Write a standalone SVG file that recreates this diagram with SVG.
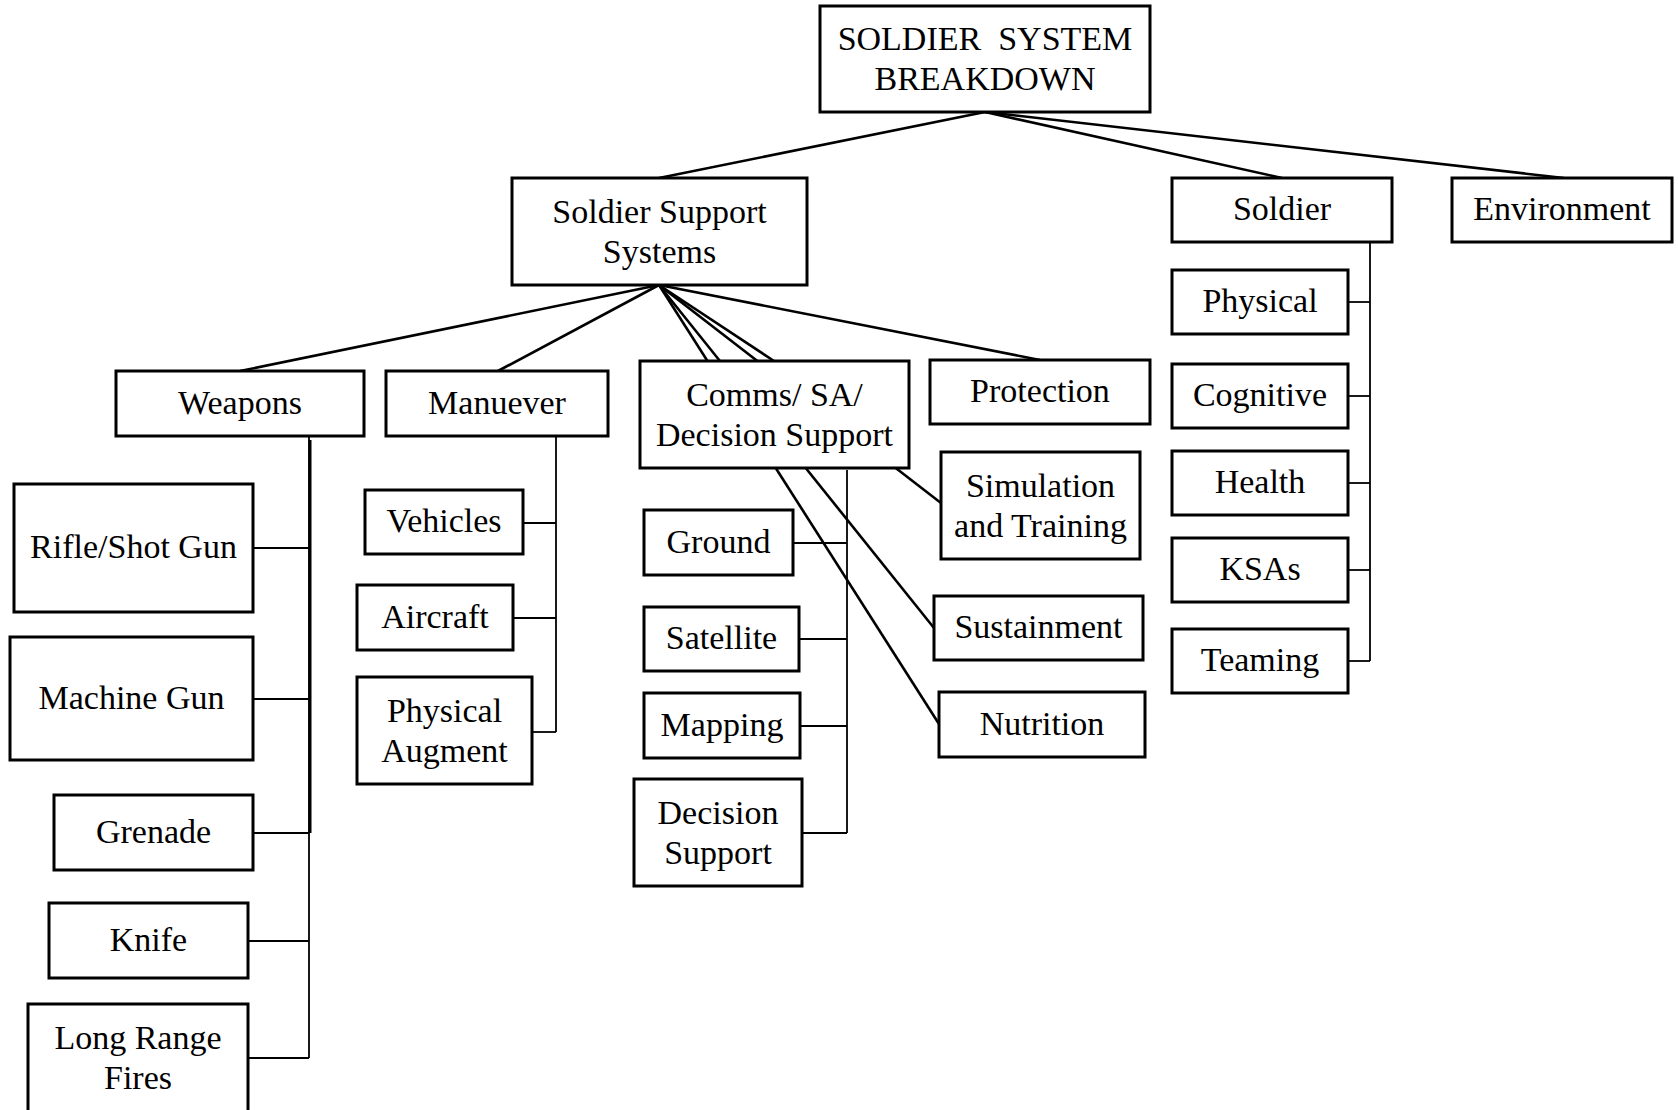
<svg xmlns="http://www.w3.org/2000/svg" width="1678" height="1110" viewBox="0 0 1678 1110">
  <style>
    .box { fill: #ffffff; stroke: #000000; stroke-width: 3; }
    .lbl { font-family: "Liberation Serif", "Times New Roman", serif; font-size: 34px; fill: #000000; text-anchor: middle; }
    .tree { stroke: #000000; stroke-width: 2.6; fill: none; }
    .bracket { stroke: #000000; stroke-width: 1.8; fill: none; }
  </style>
  <rect width="1678" height="1110" fill="#ffffff"/>

  <!-- connectors -->
  <g id="connectors">
    <!-- root to second level -->
    <line class="tree" x1="985" y1="112" x2="659" y2="178"/>
    <line class="tree" x1="985" y1="112" x2="1282" y2="178"/>
    <line class="tree" x1="985" y1="112" x2="1564" y2="178"/>
    <!-- Soldier Support Systems to its branches -->
    <line class="tree" x1="659" y1="285" x2="240" y2="371"/>
    <line class="tree" x1="659" y1="285" x2="498" y2="371"/>
    <line class="tree" x1="659" y1="285" x2="774" y2="361"/>
    <line class="tree" x1="659" y1="285" x2="1040" y2="360"/>
    <line class="tree" x1="659" y1="285" x2="941" y2="503"/>
    <line class="tree" x1="659" y1="285" x2="934" y2="628"/>
    <line class="tree" x1="659" y1="285" x2="939" y2="724"/>
    <!-- Weapons bracket -->
    <line class="bracket" x1="309" y1="436" x2="309" y2="1058"/>
    <line class="tree" x1="310" y1="440" x2="310" y2="833" style="stroke-width:3"/>
    <line class="bracket" x1="253" y1="548" x2="309" y2="548"/>
    <line class="bracket" x1="253" y1="699" x2="309" y2="699"/>
    <line class="bracket" x1="253" y1="833" x2="309" y2="833"/>
    <line class="bracket" x1="248" y1="941" x2="309" y2="941"/>
    <line class="bracket" x1="248" y1="1058" x2="309" y2="1058"/>
    <!-- Manuever bracket -->
    <line class="bracket" x1="556" y1="434" x2="556" y2="732"/>
    <line class="bracket" x1="523" y1="523" x2="556" y2="523"/>
    <line class="bracket" x1="513" y1="618" x2="556" y2="618"/>
    <line class="bracket" x1="532" y1="732" x2="556" y2="732"/>
    <!-- Comms bracket -->
    <line class="bracket" x1="847" y1="470" x2="847" y2="833"/>
    <line class="bracket" x1="793" y1="543" x2="847" y2="543"/>
    <line class="bracket" x1="799" y1="639" x2="847" y2="639"/>
    <line class="bracket" x1="800" y1="726" x2="847" y2="726"/>
    <line class="bracket" x1="802" y1="833" x2="847" y2="833"/>
    <!-- Soldier bracket -->
    <line class="bracket" x1="1370" y1="242" x2="1370" y2="661"/>
    <line class="bracket" x1="1348" y1="302" x2="1370" y2="302"/>
    <line class="bracket" x1="1348" y1="396" x2="1370" y2="396"/>
    <line class="bracket" x1="1348" y1="483" x2="1370" y2="483"/>
    <line class="bracket" x1="1348" y1="570" x2="1370" y2="570"/>
    <line class="bracket" x1="1348" y1="661" x2="1370" y2="661"/>
  </g>

  <!-- root -->
  <g id="root">
    <rect class="box" x="820" y="6" width="330" height="106"/>
    <text class="lbl" x="985" y="50" xml:space="preserve">SOLDIER  SYSTEM</text>
    <text class="lbl" x="985" y="90">BREAKDOWN</text>
  </g>

  <!-- second level -->
  <g id="soldier-support-systems">
    <rect class="box" x="512" y="178" width="295" height="107"/>
    <text class="lbl" x="659.5" y="222.5">Soldier Support</text>
    <text class="lbl" x="659.5" y="262.5">Systems</text>
  </g>
  <g id="soldier">
    <rect class="box" x="1172" y="178" width="220" height="64"/>
    <text class="lbl" x="1282" y="220">Soldier</text>
  </g>
  <g id="environment">
    <rect class="box" x="1452" y="178" width="220" height="64"/>
    <text class="lbl" x="1562" y="220">Environment</text>
  </g>

  <!-- Soldier Support Systems branches -->
  <g id="weapons">
    <rect class="box" x="116" y="371" width="248" height="65"/>
    <text class="lbl" x="240" y="413.5">Weapons</text>
  </g>
  <g id="manuever">
    <rect class="box" x="386" y="371" width="222" height="65"/>
    <text class="lbl" x="497" y="413.5">Manuever</text>
  </g>
  <g id="comms">
    <rect class="box" x="640" y="361" width="269" height="107"/>
    <text class="lbl" x="774.5" y="405.5">Comms/ SA/</text>
    <text class="lbl" x="774.5" y="445.5">Decision Support</text>
  </g>
  <g id="protection">
    <rect class="box" x="930" y="360" width="220" height="64"/>
    <text class="lbl" x="1040" y="402">Protection</text>
  </g>
  <g id="simulation-training">
    <rect class="box" x="941" y="452" width="199" height="107"/>
    <text class="lbl" x="1040.5" y="496.5">Simulation</text>
    <text class="lbl" x="1040.5" y="536.5">and Training</text>
  </g>
  <g id="sustainment">
    <rect class="box" x="934" y="596" width="209" height="64"/>
    <text class="lbl" x="1038.5" y="638">Sustainment</text>
  </g>
  <g id="nutrition">
    <rect class="box" x="939" y="692" width="206" height="65"/>
    <text class="lbl" x="1042" y="734.5">Nutrition</text>
  </g>

  <!-- Weapons items -->
  <g id="rifle">
    <rect class="box" x="14" y="484" width="239" height="128"/>
    <text class="lbl" x="133.5" y="558">Rifle/Shot Gun</text>
  </g>
  <g id="machine-gun">
    <rect class="box" x="10" y="637" width="243" height="123"/>
    <text class="lbl" x="131.5" y="708.5">Machine Gun</text>
  </g>
  <g id="grenade">
    <rect class="box" x="54" y="795" width="199" height="75"/>
    <text class="lbl" x="153.5" y="842.5">Grenade</text>
  </g>
  <g id="knife">
    <rect class="box" x="49" y="903" width="199" height="75"/>
    <text class="lbl" x="148.5" y="950.5">Knife</text>
  </g>
  <g id="long-range-fires">
    <rect class="box" x="28" y="1004" width="220" height="120"/>
    <text class="lbl" x="138" y="1048.5">Long Range</text>
    <text class="lbl" x="138" y="1088.5">Fires</text>
  </g>

  <!-- Manuever items -->
  <g id="vehicles">
    <rect class="box" x="365" y="490" width="158" height="64"/>
    <text class="lbl" x="444" y="532">Vehicles</text>
  </g>
  <g id="aircraft">
    <rect class="box" x="357" y="585" width="156" height="65"/>
    <text class="lbl" x="435" y="627.5">Aircraft</text>
  </g>
  <g id="physical-augment">
    <rect class="box" x="357" y="677" width="175" height="107"/>
    <text class="lbl" x="444.5" y="721.5">Physical</text>
    <text class="lbl" x="444.5" y="761.5">Augment</text>
  </g>

  <!-- Comms items -->
  <g id="ground">
    <rect class="box" x="644" y="510" width="149" height="65"/>
    <text class="lbl" x="718.5" y="552.5">Ground</text>
  </g>
  <g id="satellite">
    <rect class="box" x="644" y="607" width="155" height="64"/>
    <text class="lbl" x="721.5" y="649">Satellite</text>
  </g>
  <g id="mapping">
    <rect class="box" x="644" y="693" width="156" height="65"/>
    <text class="lbl" x="722" y="735.5">Mapping</text>
  </g>
  <g id="decision-support">
    <rect class="box" x="634" y="779" width="168" height="107"/>
    <text class="lbl" x="718" y="823.5">Decision</text>
    <text class="lbl" x="718" y="863.5">Support</text>
  </g>

  <!-- Soldier items -->
  <g id="physical">
    <rect class="box" x="1172" y="270" width="176" height="64"/>
    <text class="lbl" x="1260" y="312">Physical</text>
  </g>
  <g id="cognitive">
    <rect class="box" x="1172" y="364" width="176" height="64"/>
    <text class="lbl" x="1260" y="406">Cognitive</text>
  </g>
  <g id="health">
    <rect class="box" x="1172" y="451" width="176" height="64"/>
    <text class="lbl" x="1260" y="493">Health</text>
  </g>
  <g id="ksas">
    <rect class="box" x="1172" y="538" width="176" height="64"/>
    <text class="lbl" x="1260" y="580">KSAs</text>
  </g>
  <g id="teaming">
    <rect class="box" x="1172" y="629" width="176" height="64"/>
    <text class="lbl" x="1260" y="671">Teaming</text>
  </g>
</svg>
